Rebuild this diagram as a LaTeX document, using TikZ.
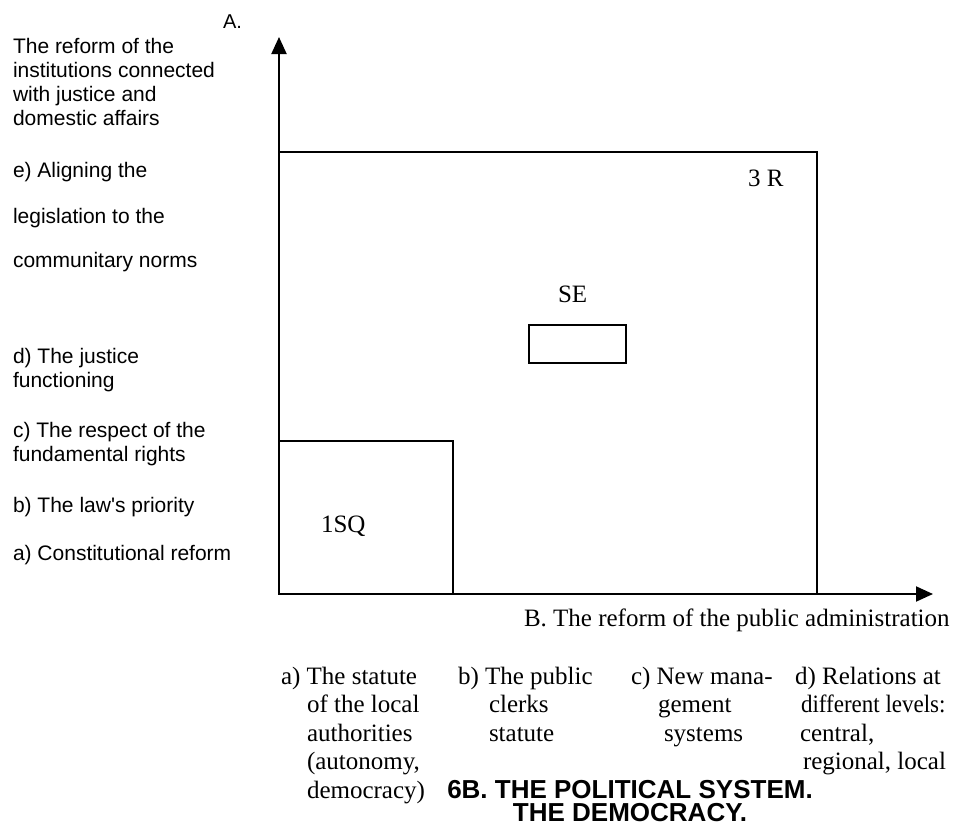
\documentclass[tikz,border=0pt]{standalone}
\usepackage{fontspec}
\setmainfont{Liberation Serif}
\setsansfont{Liberation Sans}[Ligatures=TeXOff]
\usetikzlibrary{arrows.meta}

\begin{document}
\begin{tikzpicture}[
    x=1pt, y=-1pt,       % coordinates in pixels of the page
    line width=2pt,
    axis/.style={-{Triangle[length=17pt,width=15pt]}}, % axis with filled tip
    lefttext/.style={font=\sffamily\fontsize{21}{24}\selectfont, anchor=base west, inner sep=0pt, align=left},
    coltext/.style={font=\rmfamily\fontsize{25}{28.5}\selectfont, anchor=base west, inner sep=0pt, align=left},
    boxlabel/.style={font=\rmfamily\fontsize{25}{28}\selectfont, anchor=base west, inner sep=0pt},
]
\useasboundingbox (0,0) rectangle (954,827);

% --- Axes ---
\coordinate (origin) at (279,594);
\coordinate (ytip) at (279,37);
\coordinate (xtip) at (933,594);
\draw[axis] (origin) -- (ytip);
\draw[axis] (origin) -- (xtip);
\node[lefttext, font=\sffamily\fontsize{20}{24}\selectfont] (alabel) at (222,28) {A.};
\node[boxlabel] (blabel) at (523,626) {B. The reform of the public administration};

% --- Areas ---
\draw (origin) rectangle (817,152);
\draw (origin) rectangle (453,441);
\draw (529,325) rectangle (626,363);
\node[boxlabel] (threer) at (747,186) {3 R};
\node[boxlabel] (se) at (557,302) {SE};
\node[boxlabel] (onesq) at (320,532) {1SQ};

% --- Axis A: justice and domestic affairs (base = last line) ---
\node[lefttext] (areform) at (12,125) {The reform of the\\institutions connected\\with justice and\\domestic affairs};
\node[lefttext] (ae) at (12,177) {e) Aligning the};
\node[lefttext] (aeb) at (12,223) {legislation to the};
\node[lefttext] (aec) at (12,267) {communitary norms};
\node[lefttext] (ad) at (12,387) {d) The justice\\functioning};
\node[lefttext] (ac) at (12,461) {c) The respect of the\\fundamental rights};
\node[lefttext] (ab) at (12,512) {b) The law's priority};
\node[lefttext] (aa) at (12,560) {a) Constitutional reform};

% --- Axis B: public administration ---
\node[coltext] (ba) at (280,798) {a) The statute\\\hspace*{26pt}of the local\\\hspace*{26pt}authorities\\\hspace*{26pt}(autonomy,\\\hspace*{26pt}democracy)};
\node[coltext] (bb) at (457,741) {b) The public\\\hspace*{31pt}clerks\\\hspace*{31pt}statute};
\node[coltext] (bc) at (630,741) {c) New mana-\\\hspace*{27pt}gement\\\hspace*{33pt}systems};
\node[coltext] (bd) at (794,769.5) {d) Relations at\\\hspace*{6pt}{\addfontfeature{FakeStretch=0.92}different levels:}\\\hspace*{5pt}central,\\\hspace*{8pt}regional, local};

% --- Title ---
\node[font=\sffamily\bfseries\fontsize{26}{23}\selectfont, align=center, anchor=base, inner sep=0pt] (title) at (630,821) {6B. THE POLITICAL SYSTEM.\\THE DEMOCRACY.};

\end{tikzpicture}
\end{document}
